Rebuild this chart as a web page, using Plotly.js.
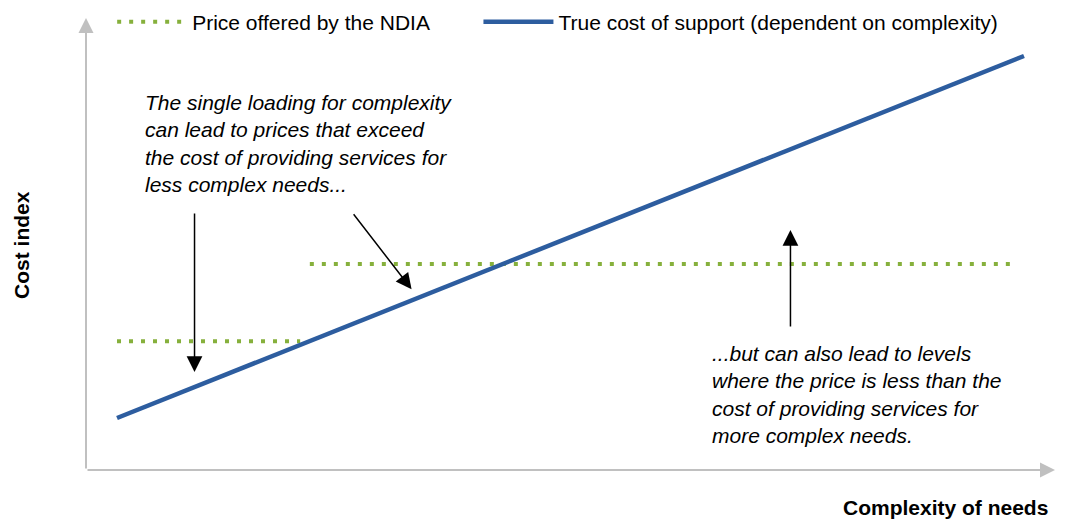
<!DOCTYPE html>
<html>
<head>
<meta charset="utf-8">
<script src="https://cdn.plot.ly/plotly-3.0.1.min.js"></script>
<style>
  html, body { margin: 0; padding: 0; background: #fff; }
  #chart { width: 1076px; height: 519px; }
</style>
</head>
<body>
<div id="chart"></div>
<script>
// complexity (x) and cost index (y), both on a 0-100 scale
var costX = [3.2, 96.8];
var costY = [11.5, 91.6];
var priceX = [3.2, 22.1, null, 23.1, 95.9];
var priceY = [28.5, 28.5, null, 45.6, 45.6];

var seriesNames = ['Price offered by the NDIA', 'True cost of support (dependent on complexity)'];

// callout arrows: [tailX, tailY, tipX, tipY]
var calloutArrows = [
  [11.2, 57.1, 11.2, 21.7],
  [27.5, 56.9, 33.6, 40.0],
  [72.7, 31.4, 72.7, 53.1]
];

var noteLeft = 'The single loading for complexity<br>can lead to prices that exceed<br>the cost of providing services for<br>less complex needs...';
var noteRight = '...but can also lead to levels<br>where the price is less than the<br>cost of providing services for<br>more complex needs.';

var fontFam = '"Liberation Sans", Arial, sans-serif';
var green = '#86b03c';
var blue = '#2d5d9f';
var axisGrey = '#c0c0c0';

var trace1 = {
  x: priceX,
  y: priceY,
  mode: 'lines',
  name: seriesNames[0],
  connectgaps: false,
  line: {color: green, width: 4, dash: '4px,8px'},
  legend: 'legend',
  hoverinfo: 'skip'
};

var trace2 = {
  x: costX,
  y: costY,
  mode: 'lines',
  name: seriesNames[1],
  line: {color: blue, width: 4.5},
  legend: 'legend2',
  hoverinfo: 'skip'
};

var annots = [];

// axis arrows
annots.push({x: 100, y: 0, ax: 0, ay: 0, xref: 'x', yref: 'y', axref: 'x', ayref: 'y',
  text: '', showarrow: true, arrowhead: 2, arrowwidth: 2, arrowsize: 1.5,
  arrowcolor: axisGrey, standoff: 0, startstandoff: 0});
annots.push({x: 0, y: 100, ax: 0, ay: 0, xref: 'x', yref: 'y', axref: 'x', ayref: 'y',
  text: '', showarrow: true, arrowhead: 2, arrowwidth: 2, arrowsize: 1.5,
  arrowcolor: axisGrey, standoff: 0, startstandoff: 0});

// callouts
calloutArrows.forEach(function(a) {
  annots.push({x: a[2], y: a[3], ax: a[0], ay: a[1], xref: 'x', yref: 'y', axref: 'x', ayref: 'y',
    text: '', showarrow: true, arrowhead: 2, arrowwidth: 1.5, arrowsize: 2.1,
    arrowcolor: '#000', standoff: 0});
});

// notes
annots.push({x: 5.9, y: 84.3, xref: 'x', yref: 'y', xanchor: 'left', yanchor: 'top', align: 'left',
  text: noteLeft, showarrow: false,
  font: {family: fontFam, size: 21, style: 'italic', color: '#000'}});
annots.push({x: 64.4, y: 28.8, xref: 'x', yref: 'y', xanchor: 'left', yanchor: 'top', align: 'left',
  text: noteRight, showarrow: false,
  font: {family: fontFam, size: 21, style: 'italic', color: '#000'}});

// axis titles
annots.push({x: -0.066, y: 0.498, xref: 'paper', yref: 'paper', xanchor: 'center', yanchor: 'middle',
  textangle: -90, text: '<b>Cost index</b>', showarrow: false,
  font: {family: fontFam, size: 21, color: '#000'}});
annots.push({x: 0.995, y: -0.082, xref: 'paper', yref: 'paper', xanchor: 'right', yanchor: 'middle',
  text: '<b>Complexity of needs</b>', showarrow: false,
  font: {family: fontFam, size: 21, color: '#000'}});

var layout = {
  width: 1076,
  height: 519,
  margin: {l: 86, r: 21, t: 18, b: 49, autoexpand: false},
  paper_bgcolor: '#fff',
  plot_bgcolor: '#fff',
  font: {family: fontFam, size: 21, color: '#000'},
  xaxis: {range: [0, 100], visible: false, fixedrange: true},
  yaxis: {range: [0, 100], visible: false, fixedrange: true},
  showlegend: true,
  legend: {x: 0.027, y: 0.991, xanchor: 'left', yanchor: 'middle', orientation: 'h',
    itemwidth: 70, bgcolor: 'rgba(0,0,0,0)', font: {family: fontFam, size: 21}},
  legend2: {x: 0.405, y: 0.991, xanchor: 'left', yanchor: 'middle', orientation: 'h',
    itemwidth: 70, bgcolor: 'rgba(0,0,0,0)', font: {family: fontFam, size: 21}},
  annotations: annots
};

Plotly.newPlot('chart', [trace1, trace2], layout, {displayModeBar: false, staticPlot: true});
</script>
</body>
</html>
